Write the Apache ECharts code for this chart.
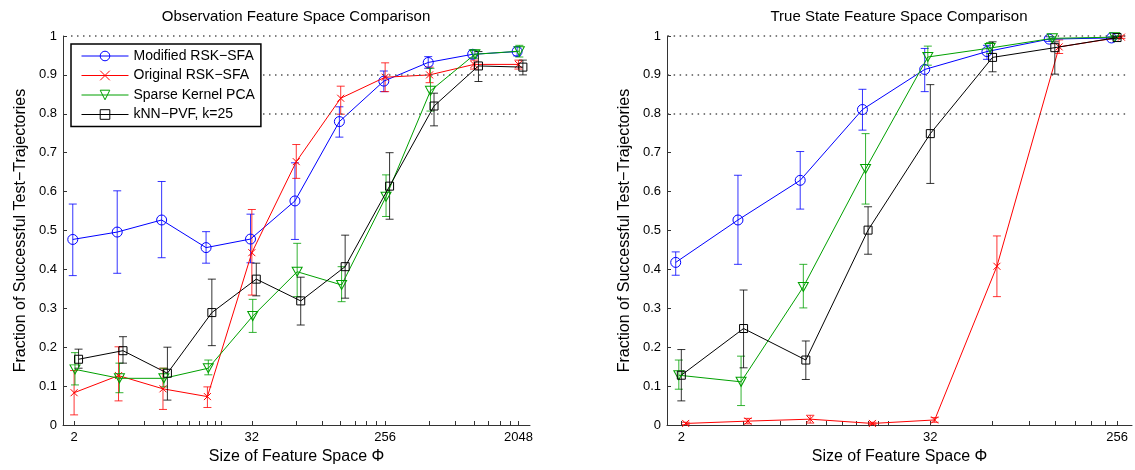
<!DOCTYPE html>
<html>
<head>
<meta charset="utf-8">
<script src="https://cdn.jsdelivr.net/npm/echarts@6/dist/echarts.min.js"></script>
<style>
html,body{margin:0;padding:0;background:#fff;}
#chart{width:1135px;height:470px;}
</style>
</head>
<body>
<div id="chart"></div>
<script>
// ---------------- DATA ----------------
const seriesNames = ['Modified RSK\u2212SFA', 'Original RSK\u2212SFA', 'Sparse Kernel PCA', 'kNN\u2212PVF, k=25'];
const xTickLabelsLeft = [2, 32, 256, 2048];
const xTickLabelsRight = [2, 32, 256];

// Left panel: Observation feature space
const sizesLeft = [2, 4, 8, 16, 32, 64, 128, 256, 512, 1024, 2048];
const obsModified   = [0.477, 0.496, 0.527, 0.456, 0.478, 0.576, 0.780, 0.884, 0.932, 0.953, 0.960];
const obsModifiedLo = [0.384, 0.390, 0.430, 0.416, 0.417, 0.477, 0.740, 0.857, 0.917, 0.943, 0.949];
const obsModifiedHi = [0.568, 0.602, 0.626, 0.497, 0.542, 0.674, 0.818, 0.910, 0.947, 0.964, 0.972];
const obsOriginal   = [0.083, 0.127, 0.093, 0.073, 0.443, 0.677, 0.840, 0.894, 0.900, 0.927, 0.927];
const obsOriginalLo = [0.026, 0.062, 0.040, 0.045, 0.334, 0.634, 0.799, 0.857, 0.880, 0.915, 0.915];
const obsOriginalHi = [0.140, 0.201, 0.146, 0.098, 0.554, 0.721, 0.871, 0.931, 0.920, 0.938, 0.938];
const obsSparse     = [0.143, 0.120, 0.120, 0.146, 0.280, 0.394, 0.360, 0.587, 0.859, 0.953, 0.961];
const obsSparseLo   = [0.103, 0.083, 0.098, 0.129, 0.238, 0.330, 0.317, 0.536, 0.807, 0.943, 0.946];
const obsSparseHi   = [0.186, 0.159, 0.146, 0.167, 0.323, 0.467, 0.407, 0.643, 0.917, 0.963, 0.976];
const obsKnn        = [0.169, 0.191, 0.133, 0.289, 0.375, 0.319, 0.407, 0.614, 0.820, 0.923, 0.920];
const obsKnnLo      = [0.146, 0.159, 0.064, 0.204, 0.332, 0.257, 0.326, 0.529, 0.769, 0.883, 0.900];
const obsKnnHi      = [0.195, 0.227, 0.200, 0.375, 0.416, 0.380, 0.488, 0.700, 0.853, 0.960, 0.938];

// Right panel: True state feature space
const sizesRight = [2, 4, 8, 16, 32, 64, 128, 256];
const trueModified   = [0.418, 0.527, 0.629, 0.811, 0.914, 0.960, 0.992, 0.995];
const trueModifiedLo = [0.385, 0.413, 0.555, 0.758, 0.857, 0.940, 0.986, 0.992];
const trueModifiedHi = [0.445, 0.642, 0.703, 0.863, 0.968, 0.976, 0.998, 0.998];
const trueOriginal   = [0.004, 0.010, 0.015, 0.004, 0.013, 0.408, 0.972, 0.997];
const trueOriginalLo = [0.001, 0.003, 0.005, 0.001, 0.007, 0.330, 0.955, 0.994];
const trueOriginalHi = [0.007, 0.017, 0.025, 0.007, 0.019, 0.486, 0.990, 1.000];
const trueSparse     = [0.128, 0.111, 0.355, 0.658, 0.946, 0.969, 0.994, 0.997];
const trueSparseLo   = [0.092, 0.050, 0.301, 0.568, 0.925, 0.955, 0.990, 0.994];
const trueSparseHi   = [0.167, 0.177, 0.413, 0.749, 0.974, 0.983, 0.998, 1.000];
const trueKnn        = [0.128, 0.248, 0.167, 0.501, 0.749, 0.945, 0.970, 0.996];
const trueKnnLo      = [0.062, 0.147, 0.117, 0.439, 0.621, 0.908, 0.902, 0.993];
const trueKnnHi      = [0.194, 0.347, 0.216, 0.561, 0.875, 0.985, 0.985, 0.999];

const refLevels = [0.8, 0.9, 1.0];

// ---------------- STYLE ----------------
const FONT = '"Liberation Sans", Arial, Helvetica, sans-serif';
const colors = ['#0000ff', '#ff0000', '#00a000', '#000000'];
const symbols = [
  'circle',
  'path://M0,0L10,10M0,10L10,0',
  'path://M0,0L10,0L5,9Z',
  'rect'
];
const symbolSizes = [10, 7, [10, 9], 8];
// small horizontal jitter per series (log2 units) as seen in the picture
const jitterLeft  = [-0.03, 0.0, 0.02, 0.1];
const jitterRight = [-0.09, 0.07, -0.04, 0.0];

const log2 = v => Math.log(v) / Math.LN2;

function minorTicks(majors) {
  const out = [];
  for (let i = 0; i < majors.length; i++) {
    out.push(majors[i]);
    if (i + 1 < majors.length) {
      for (let m = 2; m <= 10 && majors[i] * m < majors[i + 1]; m++) out.push(majors[i] * m);
    }
  }
  return out.map(log2);
}

function lineSeries(name, idx, sizes, vals, axisIdx, jitter) {
  return {
    name: name, type: 'line', xAxisIndex: axisIdx, yAxisIndex: axisIdx,
    data: sizes.map((s, i) => [log2(s) + jitter[idx], vals[i]]),
    symbol: symbols[idx], symbolSize: symbolSizes[idx],
    showSymbol: true,
    color: colors[idx],
    lineStyle: { color: colors[idx], width: 1 },
    itemStyle: { color: 'rgba(0,0,0,0)', borderColor: colors[idx], borderWidth: 1 },
    emphasis: { disabled: true },
    animation: false, z: 3 + idx
  };
}

function errSeries(name, idx, sizes, lo, hi, axisIdx, jitter) {
  const c = colors[idx];
  return {
    name: name + ' (error)', type: 'custom', xAxisIndex: axisIdx, yAxisIndex: axisIdx,
    data: sizes.map((s, i) => [log2(s) + jitter[idx], lo[i], hi[i]]),
    encode: { x: 0, y: [1, 2] },
    silent: true, animation: false, z: 2 + idx,
    renderItem: function (params, api) {
      const x = api.value(0);
      const pl = api.coord([x, api.value(1)]);
      const ph = api.coord([x, api.value(2)]);
      const w = 4;
      const st = { stroke: c, lineWidth: 1, opacity: 0.8 };
      return {
        type: 'group', children: [
          { type: 'line', shape: { x1: pl[0], y1: pl[1], x2: ph[0], y2: ph[1] }, style: st },
          { type: 'line', shape: { x1: pl[0] - w, y1: pl[1], x2: pl[0] + w, y2: pl[1] }, style: st },
          { type: 'line', shape: { x1: ph[0] - w, y1: ph[1], x2: ph[0] + w, y2: ph[1] }, style: st }
        ]
      };
    }
  };
}

function refSeries(axisIdx, x1, x2) {
  return {
    type: 'line', xAxisIndex: axisIdx, yAxisIndex: axisIdx, data: [], silent: true, animation: false,
    markLine: {
      silent: true, symbol: ['none', 'none'], animation: false,
      label: { show: false },
      lineStyle: { color: '#555', width: 1.5, type: [1.5, 4.5] },
      emphasis: { disabled: true },
      data: refLevels.map(v => [{ coord: [x1, v] }, { coord: [x2, v] }])
    }
  };
}

function xAxisCfg(gridIdx, min, max, labels) {
  const labelVals = labels.map(log2);
  return {
    type: 'value', gridIndex: gridIdx, min: min, max: max,
    name: 'Size of Feature Space \u03a6', nameLocation: 'middle', nameGap: 22,
    nameTextStyle: { fontFamily: FONT, fontSize: 16, color: '#000' },
    axisLine: { show: true, onZero: false, lineStyle: { color: '#333', width: 1 } },
    axisTick: { show: true, inside: true, length: 4, customValues: minorTicks(labels), lineStyle: { color: '#333' } },
    axisLabel: {
      show: true, customValues: labelVals, margin: 6,
      fontFamily: FONT, fontSize: 13, color: '#000',
      formatter: v => String(Math.round(Math.pow(2, v)))
    },
    splitLine: { show: false }
  };
}

function yAxisCfg(gridIdx) {
  return {
    type: 'value', gridIndex: gridIdx, min: 0, max: 1, interval: 0.1,
    name: 'Fraction of Successful Test\u2212Trajectories', nameLocation: 'middle', nameGap: 34,
    nameTextStyle: { fontFamily: FONT, fontSize: 16, color: '#000' },
    axisLine: { show: true, lineStyle: { color: '#333', width: 1 } },
    axisTick: { show: true, inside: true, length: 4, lineStyle: { color: '#333' } },
    axisLabel: {
      fontFamily: FONT, fontSize: 13, color: '#000', margin: 6,
      formatter: v => String(+v.toFixed(1))
    },
    splitLine: { show: false }
  };
}

const leftSets = [
  [obsModified, obsModifiedLo, obsModifiedHi],
  [obsOriginal, obsOriginalLo, obsOriginalHi],
  [obsSparse, obsSparseLo, obsSparseHi],
  [obsKnn, obsKnnLo, obsKnnHi]
];
const rightSets = [
  [trueModified, trueModifiedLo, trueModifiedHi],
  [trueOriginal, trueOriginalLo, trueOriginalHi],
  [trueSparse, trueSparseLo, trueSparseHi],
  [trueKnn, trueKnnLo, trueKnnHi]
];

const series = [];
leftSets.forEach((d, i) => {
  series.push(lineSeries(seriesNames[i], i, sizesLeft, d[0], 0, jitterLeft));
  series.push(errSeries(seriesNames[i], i, sizesLeft, d[1], d[2], 0, jitterLeft));
});
rightSets.forEach((d, i) => {
  series.push(lineSeries(seriesNames[i], i, sizesRight, d[0], 1, jitterRight));
  series.push(errSeries(seriesNames[i], i, sizesRight, d[1], d[2], 1, jitterRight));
});
series.push(refSeries(0, 0.93, 11.04), refSeries(1, 0.78, 8.14));

const chart = echarts.init(document.getElementById('chart'), null, { renderer: 'canvas' });
chart.setOption({
  backgroundColor: '#fff',
  animation: false,
  grid: [
    { left: 63, top: 36, width: 467, height: 389 },
    { left: 667, top: 36, width: 465, height: 389 }
  ],
  xAxis: [
    xAxisCfg(0, 0.75, 11.26, xTickLabelsLeft),
    xAxisCfg(1, 0.77, 8.24, xTickLabelsRight)
  ],
  yAxis: [yAxisCfg(0), yAxisCfg(1)],
  legend: {
    data: seriesNames,
    orient: 'vertical',
    left: 71, top: 44,
    padding: [4, 6, 4, 10],
    itemGap: 3.5,
    itemWidth: 47, itemHeight: 12,
    backgroundColor: '#fff',
    borderColor: '#000', borderWidth: 1.5, borderRadius: 0,
    selectedMode: false,
    lineStyle: { width: 1 },
    itemStyle: { borderWidth: 1 },
    textStyle: { fontFamily: FONT, fontSize: 14, color: '#000', lineHeight: 16 },
    z: 20
  },
  graphic: [
    { type: 'text', x: 296, y: 17, style: { text: 'Observation Feature Space Comparison', fontFamily: FONT, fontSize: 15, fill: '#000', textAlign: 'center', textVerticalAlign: 'middle' } },
    { type: 'text', x: 899, y: 17, style: { text: 'True State Feature Space Comparison', fontFamily: FONT, fontSize: 15, fill: '#000', textAlign: 'center', textVerticalAlign: 'middle' } }
  ],
  series: series
});
</script>
</body>
</html>
